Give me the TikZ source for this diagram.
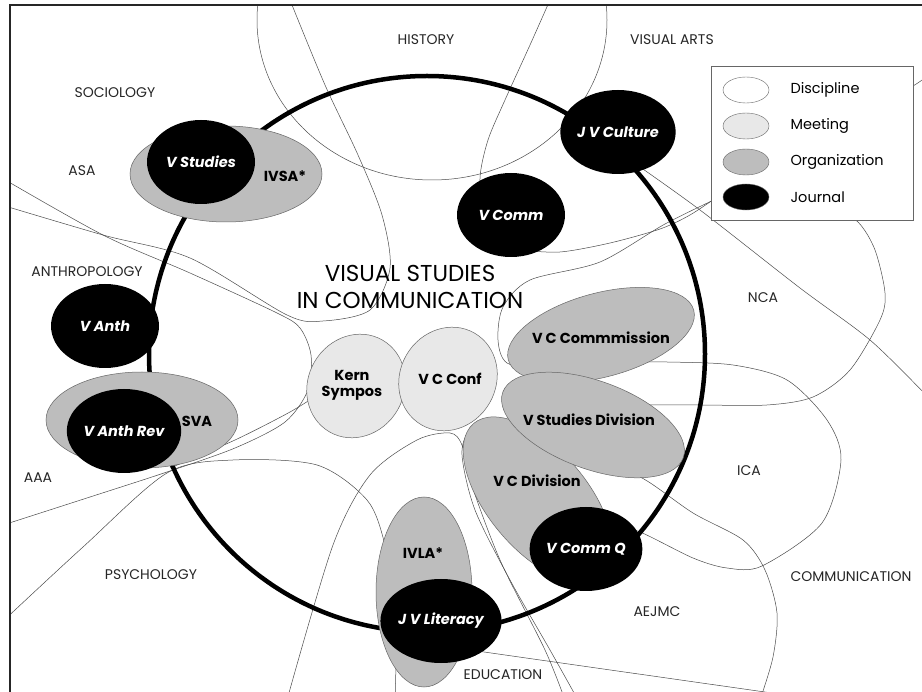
\documentclass[tikz,border=0pt]{standalone}
\usepackage{fontspec}
\setmainfont{Poppins}
\usetikzlibrary{shapes.geometric}

\begin{document}
\begin{tikzpicture}[x=1pt,y=-1pt,
  every node/.style={font=\fontsize{14.5}{17}\selectfont},
  discline/.style={draw=black!70,line width=0.5pt},
  discname/.style={text=black!85,font=\fontsize{14}{16}\selectfont},
  org/.style={ellipse,draw=black!60,fill=black!26,line width=0.5pt,inner sep=0pt},
  meet/.style={ellipse,draw=black!60,fill=black!9,line width=0.5pt,inner sep=0pt},
  journal/.style={ellipse,fill=black,text=white,inner sep=0pt,minimum width=108pt,minimum height=84pt,font=\fontsize{14.5}{17}\selectfont\bfseries\itshape},
  orgname/.style={font=\fontsize{14.5}{16}\selectfont\bfseries,align=center}]
\useasboundingbox (0,0) rectangle (922,692);
\fill[white] (0,0) rectangle (922,692);

% discipline and association outlines
\begin{scope}
\clip (10,5) rectangle (922,692);
\draw[discline] (432,20) ellipse (175 and 160);
\draw[discline] plot[smooth] coordinates {(-5,203) (103,235) (190,258) (287,315) (323,321) (370,310) (390,268) (382,215) (358,155) (325,85) (290,0)};
\draw[discline] plot[smooth] coordinates {(-5,174) (103,235) (190,273) (277,313) (300,328) (311,355) (308,390) (285,422) (235,448) (167,472) (90,497) (0,526)};
\draw[discline] plot[smooth] coordinates {(322,392) (290,412) (235,440) (170,468)};
\draw[discline] plot[smooth] coordinates {(0,624) (83,547) (167,473) (233,460) (317,465) (367,500) (385,545) (396,610) (395,700)};
\draw[discline] plot[smooth] coordinates {(287,700) (333,545) (370,475) (417,440) (450,433) (462,445) (470,480) (500,560) (545,650) (565,700)};
\draw[discline] plot[smooth] coordinates {(495,418) (470,430) (462,455) (475,510) (510,580) (550,650) (578,700)};
\draw[discline] plot[smooth] coordinates {(600,470) (640,477) (693,513) (743,540) (765,570) (777,613) (773,657) (760,700)};
\draw[discline] plot[smooth] coordinates {(600,362) (667,362) (733,365) (787,380) (827,420) (841,460) (822,523) (762,566) (727,568) (693,558) (640,532) (600,520)};
\draw[discline] plot[smooth] coordinates {(720,197) (665,224) (600,262) (530,280) (503,307) (498,340) (507,363) (545,372)};
\draw[discline] plot[smooth] coordinates {(640,405) (700,405) (767,405) (813,397) (850,370) (880,320) (885,293) (875,250) (858,222) (830,205)};
\draw[discline] plot[smooth] coordinates {(550,0) (530,45) (505,100) (488,140) (480,178) (485,215) (500,250)};
\draw[discline] plot[smooth] coordinates {(520,250) (560,252) (610,243) (660,229) (690,215) (720,195)};
\draw[discline] plot[smooth] coordinates {(900,92) (913,86) (925,78)};
\draw[discline] plot[smooth] coordinates {(630,160) (700,210) (800,288) (870,340) (925,394)};
\draw[discline] (470,650) -- (800,697);
\end{scope}

% the field
\node[circle,draw,line width=4.5pt,minimum size=556pt,inner sep=0pt] (field) at (427,354) {};

% organizations
\node[org,minimum width=192pt,minimum height=96pt] (ivsa) at (226,174) {};
\node[org,minimum width=192pt,minimum height=96pt] (sva) at (142,420) {};
\node[org,minimum width=96pt,minimum height=190pt] (ivla) at (424,592) {};
\node[org,minimum width=200pt,minimum height=100pt,rotate=-50] (vcdiv) at (538,500) {};
\node[org,minimum width=192pt,minimum height=84pt,rotate=15] (vccom) at (601,335) {};
\node[org,minimum width=192pt,minimum height=88pt,rotate=-20] (vsdiv) at (593,425) {};

% meetings
\node[meet,minimum width=106pt,minimum height=96pt,rotate=60] (kern) at (356,386) {};
\node[meet,minimum width=106pt,minimum height=96pt,rotate=60] (vcconf) at (448,379) {};

% journals
\node[journal] (vstudies) at (201,162) {V Studies};
\node[journal] (jvculture) at (618,132) {J V Culture};
\node[journal] (vcomm) at (511,215) {V Comm};
\node[journal] (vanth) at (105,326) {V Anth};
\node[journal] (vanthrev) at (124,431) {V Anth Rev};
\node[journal] (jvliteracy) at (441,621) {J V Literacy};
\node[journal] (vcommq) at (586,549) {V Comm Q};

% labels
\node[orgname] (ivsatxt) at (285,176) {IVSA*};
\node[orgname] (svatxt) at (197,421) {SVA};
\node[orgname] (ivlatxt) at (423,553) {IVLA*};
\node[orgname] (vccomtxt) at (601,338) {V C Commmission};
\node[orgname] (vsdivtxt) at (589,420) {V Studies Division};
\node[orgname] (vcdivtxt) at (537,481) {V C Division};
\node[orgname] (kerntxt) at (352,385) {Kern\\Sympos};
\node[orgname] (vcconftxt) at (450,379) {V C Conf};
\node[align=center,font=\fontsize{23}{27}\selectfont] (title) at (410,287) {VISUAL STUDIES\\IN COMMUNICATION};

\node[discname] (history) at (426,40) {HISTORY};
\node[discname] (visarts) at (672,40) {VISUAL ARTS};
\node[discname] (sociology) at (115,93) {SOCIOLOGY};
\node[discname] (asa) at (82,171) {ASA};
\node[discname] (anthro) at (87,272) {ANTHROPOLOGY};
\node[discname] (aaa) at (38,478) {AAA};
\node[discname] (psych) at (151,575) {PSYCHOLOGY};
\node[discname] (nca) at (763,298) {NCA};
\node[discname] (ica) at (749,471) {ICA};
\node[discname] (comm) at (851,577) {COMMUNICATION};
\node[discname] (aejmc) at (657,612) {AEJMC};
\node[discname] (educ) at (503,675) {EDUCATION};

% legend
\node[draw=black!60,fill=white,minimum width=202pt,minimum height=154pt,inner sep=0pt,anchor=north west] (legend) at (711,66) {};
\foreach \ky/\kfill/\klab in {90/white/Discipline,126/black!9/Meeting,162/black!26/Organization,197/black/Journal}{
  \node[ellipse,draw=black!60,fill=\kfill,minimum width=46pt,minimum height=26pt,inner sep=0pt] (key\klab) at (746,\ky) {};
  \node[anchor=west] (txt\klab) at (787,\ky) {\klab};
}

% frame
\draw[line width=2pt,black!85] (10,692) -- (10,5) -- (922,5);
\end{tikzpicture}
\end{document}
